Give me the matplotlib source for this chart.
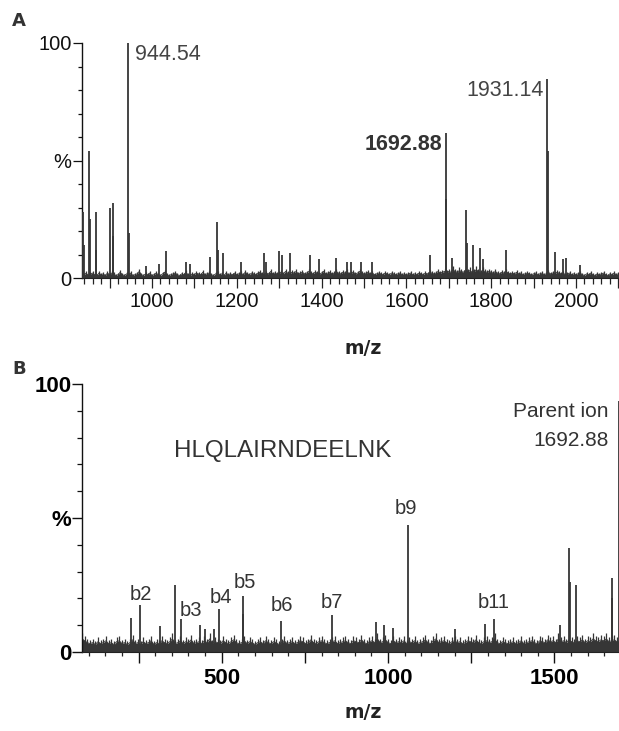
import numpy as np
import matplotlib
matplotlib.use("Agg")
import matplotlib.pyplot as plt
from matplotlib.ticker import MultipleLocator, FixedLocator, FuncFormatter

# ---------------- data: panel A (MS spectrum) ----------------
A_xlim = (835, 2103)
A_noise_start = 835
A_noise_step = 5
A_noise = [
    4, 2, 3, 1.5, 2.5, 3, 2, 1.5, 3, 2, 2.5, 1.5, 3,
    2, 3, 2.5, 1.5, 2, 3.5, 2, 1.5, 2.5, 2, 3, 1.5, 2, 2.5, 4, 2, 1.5, 2.5, 2, 3,
    1.5, 2, 3, 2, 1.5, 2.5, 3.5, 2, 1.5, 2, 2.5, 3, 2, 1.5, 2.5, 2, 3.5, 2, 1.5, 2.5,
    2, 3, 2.5, 2, 3.5, 2, 2.5, 3, 2, 1.5, 2.5, 3, 2, 2.5, 1.5, 3, 2, 2.5, 2, 3,
    2, 2.5, 3, 2, 3.5, 2.5, 2, 3, 2.5, 2, 3, 3.5, 2.5, 2, 3, 2.5, 4, 2.5, 3, 2.5,
    3, 3.5, 2.5, 4, 3, 2.5, 3.5, 3, 4, 2.5, 3, 3.5, 2.5, 3, 4, 3, 2.5, 3.5, 3, 2.5,
    3, 4, 2.5, 3, 3.5, 2.5, 3, 4, 3, 2.5, 3.5, 3, 4, 2.5, 3, 3.5, 2.5, 3, 4, 3,
    2.5, 3, 3.5, 2.5, 3, 2, 2.5, 3, 2.5, 2, 3, 2.5, 2, 3, 2.5, 2, 2.5, 3, 2, 2.5,
    2, 2.5, 3, 2, 2.5, 2, 3, 2.5, 2, 3, 2.5, 3.5, 3, 2.5, 3, 4, 3, 3.5, 4, 3.5,
    4, 3.5, 5, 4, 3.5, 4.5, 4, 3.5, 5, 4, 4.5, 3.5, 4, 5, 4, 3.5, 4.5, 4, 3.5, 4,
    3.5, 3, 4, 3, 2.5, 3.5, 3, 4, 3, 2.5, 3, 2.5, 3.5, 2.5, 3, 2, 2.5, 3, 2.5, 2,
    2.5, 3, 2, 2.5, 3, 2, 2.5, 3.5, 2.5, 3, 2.5, 3.5, 3, 2.5, 3, 2, 2.5, 3, 2, 2.5,
    2, 2.5, 3, 2, 1.5, 2.5, 2, 3, 2, 1.5, 2.5, 2, 2.5, 3, 2, 1.5, 2.5, 2, 3, 2, 2.5,
]
A_peak_mz = [838, 840, 851, 853, 867, 869, 902, 907, 909, 944.54, 946.5, 985, 1017,
             1033, 1080, 1090, 1136, 1153, 1155, 1168, 1209, 1264, 1270, 1300, 1307,
             1325, 1373, 1395, 1433, 1460, 1470, 1492, 1519, 1655, 1692.88, 1694.5,
             1707, 1741, 1743, 1757, 1773, 1780, 1835, 1931.14, 1933, 1950, 1970,
             1977, 2010]
A_peak_int = [28, 14, 54, 25, 28, 12, 30, 32, 18, 100, 19, 5, 6,
              11.6, 7, 6, 9, 24, 12, 10.5, 7, 10.6, 7, 11.5, 10,
              10.5, 10, 8, 8.5, 7, 7, 7, 7, 10, 61.6, 33.6,
              8.5, 29, 15, 14, 12.6, 8, 12, 84.5, 54, 11, 8,
              8.5, 5.5]
A_xticks_major = [900, 1000, 1100, 1200, 1300, 1400, 1500, 1600, 1700, 1800, 1900, 2000, 2100]
A_xtick_labels = {1000: "1000", 1200: "1200", 1400: "1400", 1600: "1600",
                  1800: "1800", 2000: "2000"}

# ---------------- data: panel B (MS/MS spectrum) ----------------
B_xlim = (80, 1696)
B_noise_start = 80
B_noise_step = 8
B_noise = [
    7, 6, 5, 4.5, 5, 4, 5.5, 4.5, 5, 6, 4.5, 5, 4, 5.5, 6, 4.5, 5, 4, 5, 6.5,
    4.5, 5, 4, 5.5, 4.5, 5, 6, 4, 5, 4.5, 6, 5, 4.5, 5.5, 7, 4.5, 5, 6, 4.5, 5.5,
    5, 6.5, 4.5, 5, 5.5, 4.5, 6, 5, 7, 4.5, 5.5, 5, 4.5, 6, 5, 4.5, 5.5, 6.5, 5, 4.5,
    5, 6, 4.5, 5.5, 5, 4, 5, 5.5, 4.5, 6, 5, 4.5, 5.5, 5, 4, 5, 6, 4.5, 5, 5.5,
    4.5, 5, 6, 5.5, 4.5, 5, 6.5, 5, 4.5, 5.5, 6, 5, 4.5, 5, 5.5, 6, 4.5, 5, 5.5, 6,
    5, 4.5, 6, 5.5, 5, 6.5, 5, 4.5, 5.5, 6, 5, 7, 5, 5.5, 6.5, 5, 4.5, 6, 5, 5.5,
    5, 6, 4.5, 5.5, 5, 6, 4.5, 5, 5.5, 6.5, 5, 4.5, 6, 7, 5, 5.5, 6, 5, 4.5, 5.5,
    6, 5, 5.5, 4.5, 5, 6, 5.5, 5, 6.5, 5, 4.5, 5.5, 6, 5, 5.5, 7, 5, 4.5, 5.5, 5,
    4.5, 5, 5.5, 4.5, 5, 6, 4.5, 5, 5.5, 6, 5, 4.5, 6, 5.5, 5, 6.5, 5.5, 6, 5, 7,
    5.5, 6, 5, 6.5, 5.5, 5, 6, 5.5, 6.5, 5, 6, 5.5, 7, 6, 5.5, 6.5, 6, 7, 5.5, 6,
    6.5, 5.5, 6,
]
B_peak_mz = [226, 253, 314, 361, 379, 436, 450, 477, 493, 563, 565, 677, 832, 964,
             989, 1015, 1061, 1201, 1292, 1319, 1516, 1544, 1546, 1564, 1672, 1674,
             1692.88]
B_peak_int = [12.8, 17.5, 9.8, 25, 12.4, 10, 8.6, 8.5, 16, 21, 14, 11.6, 13.8, 11.2,
              10, 9, 47.4, 8.5, 10.4, 12.3, 10, 38.7, 26, 25, 27.5, 20, 93.6]
B_xticks_major = [250, 500, 750, 1000, 1250, 1500]
B_xtick_labels = {500: "500", 1000: "1000", 1500: "1500"}
B_ion_labels = ["b2", "b3", "b4", "b5", "b6", "b7", "b9", "b11"]
B_ion_label_pos = [(257, 21.3), (407, 15.3), (497, 20.5), (569, 26.1), (680, 17.2),
                   (832, 18.3), (1055, 53.7), (1316, 18.3)]
sequence = "HLQLAIRNDEELNK"

YTICK_LABELS = {0: "0", 50: "%", 100: "100"}

# ---------------- figure ----------------
W, H = 619, 731
fig = plt.figure(figsize=(W / 100, H / 100), dpi=100)
LINE = "#363636"
SANS = ["Liberation Sans", "DejaVu Sans"]
HEAD = ["DejaVu Sans"]


def fx(px):
    return px / W


def fy(py):
    return 1 - py / H


axA = fig.add_axes([fx(82), fy(278), fx(619 - 82) + 0.001, (278 - 43) / H])
axB = fig.add_axes([fx(82), fy(652), fx(619 - 82) + 0.001, (652 - 384) / H])


def draw_spectrum(ax, start, step, noise, pk_mz, pk_int, xlim):
    xs = start + step * np.arange(len(noise))
    ns = np.asarray(noise, dtype=float)
    # solid lower part of the noise band, with thin spikes reaching each noise level
    ax.fill_between(xs, 0, ns * 0.7, color=LINE, lw=0, zorder=2)
    ax.plot(xs, ns * 0.7, color=LINE, lw=0.6, zorder=2)
    ax.vlines(xs, 0, ns, color=LINE, lw=0.9, zorder=2)
    ax.vlines(pk_mz, 0, pk_int, color=LINE, lw=1.3, zorder=3)
    ax.set_xlim(*xlim)
    ax.set_ylim(0, 100)
    for s in ("top", "right"):
        ax.spines[s].set_visible(False)
    ax.spines["left"].set_linewidth(1.0)
    ax.spines["left"].set_color("#111111")
    ax.spines["bottom"].set_linewidth(0.8)
    ax.spines["bottom"].set_color("#222222")
    ax.yaxis.set_major_locator(FixedLocator([0, 50, 100]))
    ax.yaxis.set_minor_locator(MultipleLocator(10))
    ax.yaxis.set_major_formatter(FuncFormatter(lambda v, p: YTICK_LABELS.get(int(round(v)), "")))


draw_spectrum(axA, A_noise_start, A_noise_step, A_noise, A_peak_mz, A_peak_int, A_xlim)
draw_spectrum(axB, B_noise_start, B_noise_step, B_noise, B_peak_mz, B_peak_int, B_xlim)

# panel A ticks
axA.xaxis.set_major_locator(FixedLocator(A_xticks_major))
axA.xaxis.set_minor_locator(MultipleLocator(20))
axA.xaxis.set_major_formatter(FuncFormatter(lambda v, p: A_xtick_labels.get(int(round(v)), "")))
axA.tick_params(axis="x", which="major", length=7.2, width=0.9, pad=3, labelsize=14.5,
                color="#222222", labelcolor="#111111")
axA.tick_params(axis="x", which="minor", length=4.1, width=0.9, color="#222222")
axA.tick_params(axis="y", which="major", length=6.5, width=0.9, pad=1, labelsize=14.5,
                color="#111111", labelcolor="#111111")
axA.tick_params(axis="y", which="minor", length=3.2, width=0.9, color="#111111")
for lab in axA.get_xticklabels() + axA.get_yticklabels():
    lab.set_family(SANS)

# panel B ticks
axB.xaxis.set_major_locator(FixedLocator(B_xticks_major))
axB.xaxis.set_minor_locator(MultipleLocator(50))
axB.xaxis.set_major_formatter(FuncFormatter(lambda v, p: B_xtick_labels.get(int(round(v)), "")))
axB.tick_params(axis="x", which="major", length=8, width=1.0, pad=3.6, labelsize=16,
                color="#111111", labelcolor="#000000")
axB.tick_params(axis="x", which="minor", length=3.1, width=0.9, color="#222222")
axB.tick_params(axis="y", which="major", length=7.2, width=1.0, pad=0.5, labelsize=16,
                color="#111111", labelcolor="#000000")
axB.tick_params(axis="y", which="minor", length=3.6, width=0.9, color="#111111")
for lab in axB.get_xticklabels() + axB.get_yticklabels():
    lab.set_family(SANS)
    lab.set_fontweight("bold")

# panel A annotations
axA.text(960, 95.3, "944.54", ha="left", va="center", fontsize=15.5, family=SANS,
         color="#444444")
axA.text(1684.4, 57, "1692.88", ha="right", va="center", fontsize=15.5, family=SANS,
         color="#333333", fontweight="bold")
axA.text(1923, 80, "1931.14", ha="right", va="center", fontsize=15.5, family=SANS,
         color="#444444")

# panel B annotations
for lab, (lx, ly) in zip(B_ion_labels, B_ion_label_pos):
    axB.text(lx, ly, lab, ha="center", va="center", fontsize=14.5, family=SANS,
             color="#333333")
axB.text(1664, 89.6, "Parent ion", ha="right", va="center", fontsize=15, family=SANS,
         color="#333333")
axB.text(1664, 79.1, "1692.88", ha="right", va="center", fontsize=15, family=SANS,
         color="#333333")
axB.text(356, 75, sequence, ha="left", va="center", fontsize=17.4, family=SANS,
         color="#333333")

# panel letters and axis titles
fig.text(fx(12), fy(21.5), "A", ha="left", va="center", fontsize=13, family=HEAD,
         fontweight="bold", color="#333333")
fig.text(fx(12), fy(368.5), "B", ha="left", va="center", fontsize=13, family=HEAD,
         fontweight="bold", color="#333333")
fig.text(fx(363), fy(349), "m/z", ha="center", va="center", fontsize=13.5, family=HEAD,
         fontweight="bold", color="#222222")
fig.text(fx(363), fy(713), "m/z", ha="center", va="center", fontsize=13.5, family=HEAD,
         fontweight="bold", color="#222222")

fig.savefig("out.png", dpi=100)
